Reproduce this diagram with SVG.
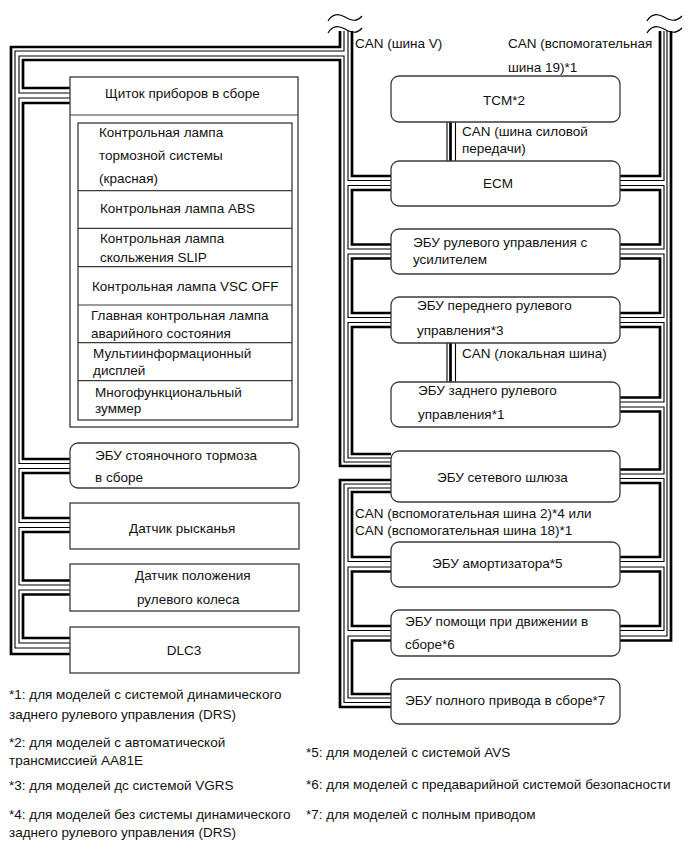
<svg xmlns="http://www.w3.org/2000/svg" width="689" height="853" viewBox="0 0 689 853">
<style>
.box{fill:#fff;stroke:#3a3a3a;stroke-width:1.3}
.ln{fill:none;stroke:#3a3a3a;stroke-width:1.2}
.bk{fill:none;stroke:#000;stroke-width:2.7}
.bt{fill:none;stroke:#000;stroke-width:1.1}
.wv{fill:none;stroke:#000;stroke-width:1.2}
text{font-family:"Liberation Sans",Arial,sans-serif;font-size:13.5px;fill:#111}
.m{text-anchor:middle}
</style>
<rect width="689" height="853" fill="#fff"/>
<g id="connectors">
<path class="bk" d="M340,31 V47 H11 V654 H70"/>
<path class="bt" d="M344,31 V51 H15 V648 H70"/>
<path class="bt" d="M70,93 H19 V56 H344 V462 H391"/>
<path class="bk" d="M70,88 H23 V60 H340 V466 H391"/>
<path class="bt" d="M70,98 H19 V463.5 H70"/>
<path class="bk" d="M70,103 H23 V459 H70"/>
<path class="bt" d="M70,468.5 H19 V522.5 H70"/>
<path class="bk" d="M70,473 H23 V518 H70"/>
<path class="bt" d="M70,527.5 H19 V585 H70"/>
<path class="bk" d="M70,532 H23 V580.5 H70"/>
<path class="bt" d="M70,590 H19 V643 H70"/>
<path class="bk" d="M70,594.5 H23 V638 H70"/>
<path class="bt" d="M348,31 V180.5 H391"/>
<path class="bk" d="M352,31 V176 H391"/>
<path class="bt" d="M391,185.5 H348 V249 H391"/>
<path class="bk" d="M391,190 H352 V244.5 H391"/>
<path class="bt" d="M391,254 H348 V317.5 H391"/>
<path class="bk" d="M391,258.5 H352 V313 H391"/>
<path class="bt" d="M391,322.5 H348 V458 H391"/>
<path class="bk" d="M391,327 H352 V454 H391"/>
<path class="bk" d="M391,480 H340 V707 H391"/>
<path class="bt" d="M391,484 H344 V702.5 H391"/>
<path class="bt" d="M391,488 H348 V561.5 H391"/>
<path class="bk" d="M391,492 H352 V557 H391"/>
<path class="bt" d="M391,567 H348 V630.5 H391"/>
<path class="bk" d="M391,571.5 H352 V626 H391"/>
<path class="bt" d="M391,636 H348 V698 H391"/>
<path class="bk" d="M391,640.5 H352 V694 H391"/>
<path class="bk" d="M660,31 V176 H620"/>
<path class="bt" d="M664,31 V180.5 H620"/>
<path class="bt" d="M620,185.5 H664 V249 H620"/>
<path class="bk" d="M620,190 H660 V244.5 H620"/>
<path class="bt" d="M620,254 H664 V317.5 H620"/>
<path class="bk" d="M620,258.5 H660 V313 H620"/>
<path class="bt" d="M620,322.5 H664 V402 H620"/>
<path class="bk" d="M620,327 H660 V397.5 H620"/>
<path class="bt" d="M620,407 H664 V474 H620"/>
<path class="bk" d="M620,411.5 H660 V469.5 H620"/>
<path class="bt" d="M620,478.5 H664 V561.5 H620"/>
<path class="bk" d="M620,483 H660 V557 H620"/>
<path class="bt" d="M620,567 H664 V630.5 H620"/>
<path class="bk" d="M620,571.5 H660 V626 H620"/>
<path class="bt" d="M667,31 V636 H620"/>
<path class="bk" d="M671,31 V640.5 H620"/>
<path class="bt" d="M447,122 V161 M455.5,122 V161 M447,343 V382 M455.5,343 V382"/>
<path class="bk" d="M450.5,122 V161 M450.5,343 V382"/>
<path class="wv" d="M328,21 C332,14 338,13 345,17 C352,21 357,22 362,16"/>
<path class="wv" d="M328,33 C332,26 338,25 345,29 C352,33 357,34 362,28"/>
<path class="wv" d="M647,21 C651,14 657,13 664,17 C671,21 676,22 682,16"/>
<path class="wv" d="M647,33 C651,26 657,25 664,29 C671,33 676,34 682,28"/>
</g>
<g id="bus-labels">
<text x="355" y="47.5">CAN (шина V)</text>
<text x="508" y="47.5">CAN (вспомогательная</text>
<text x="508" y="71.5">шина 19)*1</text>
<text x="462" y="135.5">CAN (шина силовой</text>
<text x="462" y="152.5">передачи)</text>
<text x="462" y="357.5">CAN (локальная шина)</text>
<text x="355" y="517.5">CAN (вспомогательная шина 2)*4 или</text>
<text x="355" y="534.5">CAN (вспомогательная шина 18)*1</text>
</g>
<g id="instrument-cluster">
<rect class="box" x="70" y="77" width="228" height="350"/>
<line class="ln" x1="70" y1="115" x2="298" y2="115"/>
<rect class="box" x="78" y="123" width="214" height="297"/>
<path class="ln" d="M78,190.7 H292 M78,228.3 H292 M78,266.7 H292 M78,305 H292 M78,342.7 H292 M78,380.7 H292"/>
<text x="105" y="97.5">Щиток приборов в сборе</text>
<text x="99" y="137">Контрольная лампа</text>
<text x="99" y="159.5">тормозной системы</text>
<text x="99" y="182.5">(красная)</text>
<text x="100" y="213">Контрольная лампа ABS</text>
<text x="100" y="242.5">Контрольная лампа</text>
<text x="100" y="261.5">скольжения SLIP</text>
<text x="92" y="290.5">Контрольная лампа VSC OFF</text>
<text x="91" y="319.5">Главная контрольная лампа</text>
<text x="91" y="337.5">аварийного состояния</text>
<text x="93" y="357.5">Мультиинформационный</text>
<text x="93" y="374.5">дисплей</text>
<text x="95" y="396.5">Многофункциональный</text>
<text x="95" y="412.5">зуммер</text>
</g>
<g id="parking-brake-ecu">
<rect class="box" x="70" y="443" width="229" height="45" rx="8"/>
<text x="95" y="459.5">ЭБУ стояночного тормоза</text>
<text x="95" y="481.5">в сборе</text>
</g>
<g id="yaw-sensor">
<rect class="box" x="70" y="503" width="229" height="46"/>
<text x="129" y="532.5">Датчик рысканья</text>
</g>
<g id="steering-angle-sensor">
<rect class="box" x="70" y="564" width="229" height="47"/>
<text x="135" y="579.5">Датчик положения</text>
<text x="137" y="603.5">рулевого колеса</text>
</g>
<g id="dlc3">
<rect class="box" x="70" y="627" width="229" height="46"/>
<text class="m" x="184" y="654.5">DLC3</text>
</g>
<g id="tcm">
<rect class="box" x="391" y="76" width="229" height="46" rx="8"/>
<text class="m" x="504" y="104.5">TCM*2</text>
</g>
<g id="ecm">
<rect class="box" x="391" y="161" width="229" height="45" rx="8"/>
<text class="m" x="498" y="187.5">ECM</text>
</g>
<g id="eps-ecu">
<rect class="box" x="391" y="229" width="229" height="45" rx="8"/>
<text x="413" y="246.5">ЭБУ рулевого управления с</text>
<text x="413" y="263.5">усилителем</text>
</g>
<g id="front-steering-ecu">
<rect class="box" x="391" y="297" width="229" height="46" rx="8"/>
<text x="417" y="309.5">ЭБУ переднего рулевого</text>
<text x="417" y="334.5">управления*3</text>
</g>
<g id="rear-steering-ecu">
<rect class="box" x="391" y="382" width="229" height="45" rx="8"/>
<text x="418" y="394.5">ЭБУ заднего рулевого</text>
<text x="418" y="418.5">управления*1</text>
</g>
<g id="gateway-ecu">
<rect class="box" x="391" y="451" width="229" height="51" rx="8"/>
<text x="437" y="481.5">ЭБУ сетевого шлюза</text>
</g>
<g id="absorber-ecu">
<rect class="box" x="391" y="542" width="229" height="45" rx="8"/>
<text x="432" y="567.5">ЭБУ амортизатора*5</text>
</g>
<g id="driving-support-ecu">
<rect class="box" x="391" y="610" width="229" height="46" rx="8"/>
<text x="405" y="625.5">ЭБУ помощи при движении в</text>
<text x="405" y="648.5">сборе*6</text>
</g>
<g id="4wd-ecu">
<rect class="box" x="391" y="679" width="229" height="45" rx="8"/>
<text x="405" y="704.5">ЭБУ полного привода в сборе*7</text>
</g>
<g id="footnotes">
<text x="9" y="698.5">*1: для моделей с системой динамического</text>
<text x="9" y="718.5">заднего рулевого управления (DRS)</text>
<text x="9" y="746.5">*2: для моделей с автоматической</text>
<text x="9" y="764.5">трансмиссией AA81E</text>
<text x="9" y="789.5">*3: для моделей дс системой VGRS</text>
<text x="9" y="818.5">*4: для моделей без системы динамического</text>
<text x="9" y="836.5">заднего рулевого управления (DRS)</text>
<text x="306" y="756.5">*5: для моделей с системой AVS</text>
<text x="306" y="788.5">*6: для моделей с предаварийной системой безопасности</text>
<text x="306" y="818.5">*7: для моделей с полным приводом</text>
</g>
</svg>
